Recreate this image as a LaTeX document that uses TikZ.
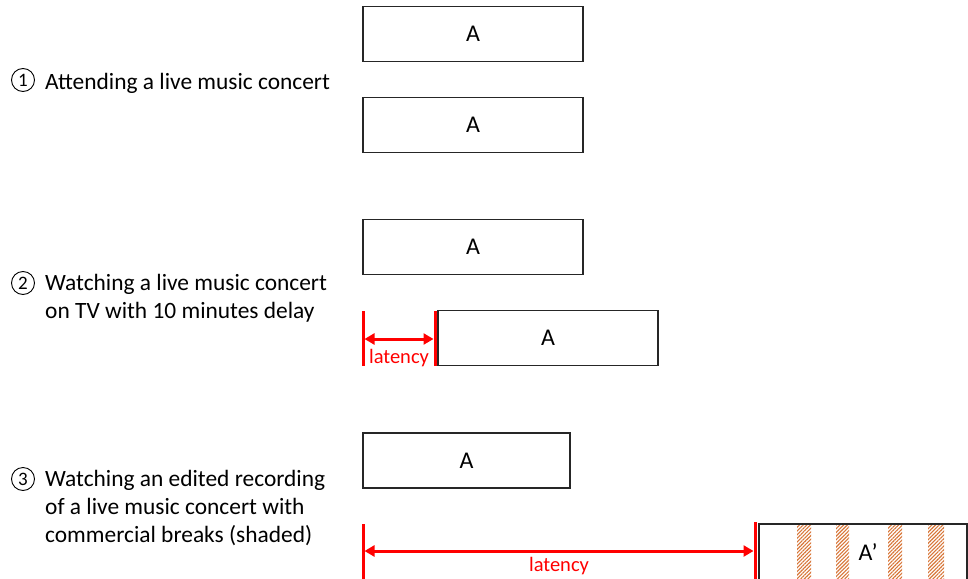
\documentclass[tikz,border=0pt]{standalone}
\usepackage{fontspec}
\setmainfont{Carlito}
\usetikzlibrary{arrows.meta,patterns.meta}
\definecolor{latred}{RGB}{255,0,0}
\definecolor{hatch}{RGB}{216,118,56}
\tikzset{
  seg/.style={draw=black!85, line width=1.1pt, fill=white, inner sep=0pt, font=\fontsize{24}{28}\selectfont},
  lab/.style={anchor=west, align=left, inner sep=0pt, font=\fontsize{23.4}{28}\selectfont},
  circ/.style={draw=black, line width=0.9pt, circle, minimum size=23pt, inner sep=0pt, font=\fontsize{19}{22}\selectfont},
  latline/.style={draw=latred, line width=3pt},
  latarrow/.style={draw=latred, line width=3pt, {Triangle[length=10pt,width=11pt]}-{Triangle[length=10pt,width=11pt]}, shorten <=1.5pt, shorten >=1.5pt},
  lattext/.style={text=latred, inner sep=0pt, font=\fontsize{20.5}{24}\selectfont},
  shade/.style={pattern={Lines[angle=45,distance=2.6pt,line width=1.1pt]}, pattern color=hatch}
}
\begin{document}
\begin{tikzpicture}[x=1pt,y=-1pt]
\clip (0,0) rectangle (968,578);
\fill[white] (0,0) rectangle (968,578);

% labels
\node[circ] (n1) at (23,80) {1};
\node[lab] (t1) at (45,83) {Attending a live music concert};
\node[circ] (n2) at (23,283) {2};
\node[lab, anchor=north west] (t2) at (45,274) {Watching a live music concert\\on TV with 10 minutes delay};
\node[circ] (n3) at (23,479) {3};
\node[lab, anchor=north west] (t3) at (45,470) {Watching an edited recording\\of a live music concert with\\commercial breaks (shaded)};

% row 1
\node[seg, minimum width=220pt, minimum height=55pt] (a1) at (473,34) {A};
\node[seg, minimum width=220pt, minimum height=55pt] (a2) at (473,125) {A};

% row 2
\node[seg, minimum width=220pt, minimum height=55pt] (b1) at (473,247) {A};
\node[seg, minimum width=220pt, minimum height=55pt] (b2) at (548,338) {A};
\coordinate (l1a) at (363,311);
\coordinate (l1b) at (363,366);
\coordinate (l2a) at (435,311);
\coordinate (l2b) at (435,366);
\draw[latline] (l1a) -- (l1b);
\draw[latline] (l2a) -- (l2b);
\coordinate (m1) at (363,339);
\coordinate (m2) at (435,339);
\draw[latarrow] (m1) -- (m2);
\node[lattext] (lt1) at (399,358) {latency};

% row 3
\node[seg, minimum width=207pt, minimum height=55pt] (c1) at (466.5,460.5) {A};
\node[seg, minimum width=207pt, minimum height=100pt, anchor=north west] (c2) at (759,524) {};
\fill[shade] (797,525) rectangle (811,578);
\fill[shade] (836,525) rectangle (849,578);
\fill[shade] (888,525) rectangle (902,578);
\fill[shade] (928,525) rectangle (944,578);
\draw[draw=black!85, line width=1.1pt] (c2.south west) -- (c2.north west) -- (c2.north east) -- (c2.south east);
\node[inner sep=0pt, font=\fontsize{24}{28}\selectfont] (cl) at (868,552) {A’};
\coordinate (l3a) at (363,524);
\coordinate (l3b) at (363,580);
\coordinate (l4a) at (755,522);
\coordinate (l4b) at (755,580);
\draw[latline] (l3a) -- (l3b);
\draw[latline] (l4a) -- (l4b);
\coordinate (m3) at (363,551);
\coordinate (m4) at (755,551);
\draw[latarrow] (m3) -- (m4);
\node[lattext] (lt2) at (559,566) {latency};
\end{tikzpicture}
\end{document}
